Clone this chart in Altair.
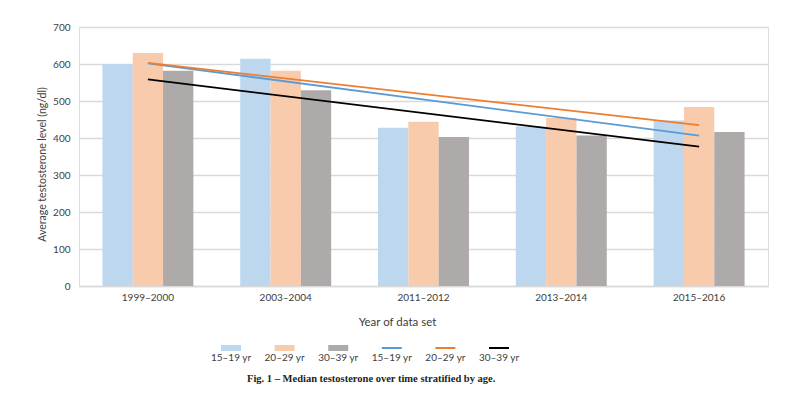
import altair as alt
import pandas as pd

years = ["1999–2000", "2003–2004", "2011–2012", "2013–2014", "2015–2016"]
ages = ["15–19 yr", "20–29 yr", "30–39 yr"]
v_15_19 = [600, 614, 428, 431, 447]
v_20_29 = [630, 582, 444, 454, 484]
v_30_39 = [582, 529, 403, 407, 416]

legend_labels = ["15–19 yr", "20–29 yr", "30–39 yr", "15–19 yr", "20–29 yr", "30–39 yr"]
legend_kinds = ["bar", "bar", "bar", "line", "line", "line"]
legend_keys = ["b:" + a for a in ages] + ["l:" + a for a in ages]

bar_colors = ["#BDD7EE", "#F8CBAD", "#AEAAAA"]
line_colors = ["#5B9BD5", "#ED7D31", "#000000"]

rows = []
for age, vals in zip(ages, [v_15_19, v_20_29, v_30_39]):
    for i, (yr, v) in enumerate(zip(years, vals)):
        rows.append({"year": yr, "idx": i + 1, "age": age, "value": v})
df = pd.DataFrame(rows)

leg_df = pd.DataFrame({"pos": list(range(len(legend_labels))), "label": legend_labels,
                       "kind": legend_kinds, "key": legend_keys})

color_scale = alt.Scale(domain=legend_keys, range=bar_colors + line_colors)
FONT = "Lato"

x_axis = alt.Axis(title="Year of data set", labelAngle=0, ticks=False, domain=True,
                  domainColor="#d9d9d9", domainWidth=1.5, labelPadding=6, labelFontSize=10,
                  labelFont=FONT, labelColor="#404040",
                  titleFont=FONT, titleFontSize=11.5, titleFontWeight="normal", titleColor="#404040",
                  titleX=318, titleY=36, titleBaseline="middle", titleAlign="center")
x_scale = alt.Scale(paddingInner=0.34, paddingOuter=0.17)
y_axis = alt.Axis(title="Average testosterone level (ng/dl)", values=[0, 100, 200, 300, 400, 500, 600, 700],
                  grid=True, gridColor="#d9d9d9", gridWidth=1.5, domain=False, ticks=False,
                  labelPadding=9, labelFontSize=10, labelFont=FONT, labelColor="#404040",
                  labelOverlap=False,
                  titleFont=FONT, titleFontSize=10.5, titleFontWeight="normal", titleColor="#404040",
                  titleX=-37, titleY=137, titleBaseline="middle", titleAlign="center", titleAngle=-90)
y_scale = alt.Scale(domain=[0, 700], nice=False)

bars = alt.Chart(df).transform_calculate(key="'b:' + datum.age").mark_bar().encode(
    x=alt.X("year:N", sort=years, scale=x_scale, axis=x_axis),
    xOffset=alt.XOffset("age:N", sort=ages, scale=alt.Scale(paddingInner=0, paddingOuter=0)),
    y=alt.Y("value:Q", scale=y_scale, axis=y_axis),
    color=alt.Color("key:N", scale=color_scale, legend=None),
)

year_expr = "[" + ",".join("'" + y + "'" for y in years) + "][round(datum.idx) - 1]"
lines = alt.Chart(df).transform_regression(
    "idx", "value", groupby=["age"], method="linear"
).transform_calculate(
    year=year_expr, key="'l:' + datum.age"
).mark_line(strokeWidth=1.8).encode(
    x=alt.X("year:N", sort=years, scale=x_scale, axis=x_axis),
    y=alt.Y("value:Q", scale=y_scale, axis=y_axis),
    color=alt.Color("key:N", scale=color_scale, legend=None),
    detail="age:N",
)

main = alt.layer(bars, lines)

lx = alt.X("pos:O", scale=alt.Scale(type="point", range=[152, 420], padding=0), axis=None)
leg_bar = alt.Chart(leg_df).transform_filter("datum.kind == 'bar'").mark_point(
    shape="M-1,-0.3H1V0.3H-1Z", filled=True, size=400, opacity=1, strokeWidth=0
).encode(x=lx, y=alt.value(321), color=alt.Color("key:N", scale=color_scale, legend=None))
leg_line = alt.Chart(leg_df).transform_filter("datum.kind == 'line'").mark_point(
    shape="M-1,-0.1H1V0.1H-1Z", filled=True, size=400, opacity=1, strokeWidth=0
).encode(x=lx, y=alt.value(321), color=alt.Color("key:N", scale=color_scale, legend=None))
leg_text = alt.Chart(leg_df).mark_text(font=FONT, fontSize=10, color="#404040", baseline="middle").encode(
    x=lx, y=alt.value(331), text="label:N")
legend = alt.layer(leg_bar, leg_line, leg_text)

chart = alt.layer(main, legend).resolve_scale(x="independent").properties(
    width=689, height=259,
    title=alt.TitleParams(
        "Fig. 1 – Median testosterone over time stratified by age.",
        orient="bottom", anchor="start", frame="group", dx=168, offset=11,
        font="Liberation Serif", fontSize=10.5, fontWeight="bold", color="#231f20"),
    autosize=alt.AutoSizeParams(type="none"),
    padding={"left": 71, "top": 19, "right": 24, "bottom": 102},
).configure_view(stroke=None).configure(background="white")

chart.save("out.html", embed_options={"renderer": "svg", "actions": False})
